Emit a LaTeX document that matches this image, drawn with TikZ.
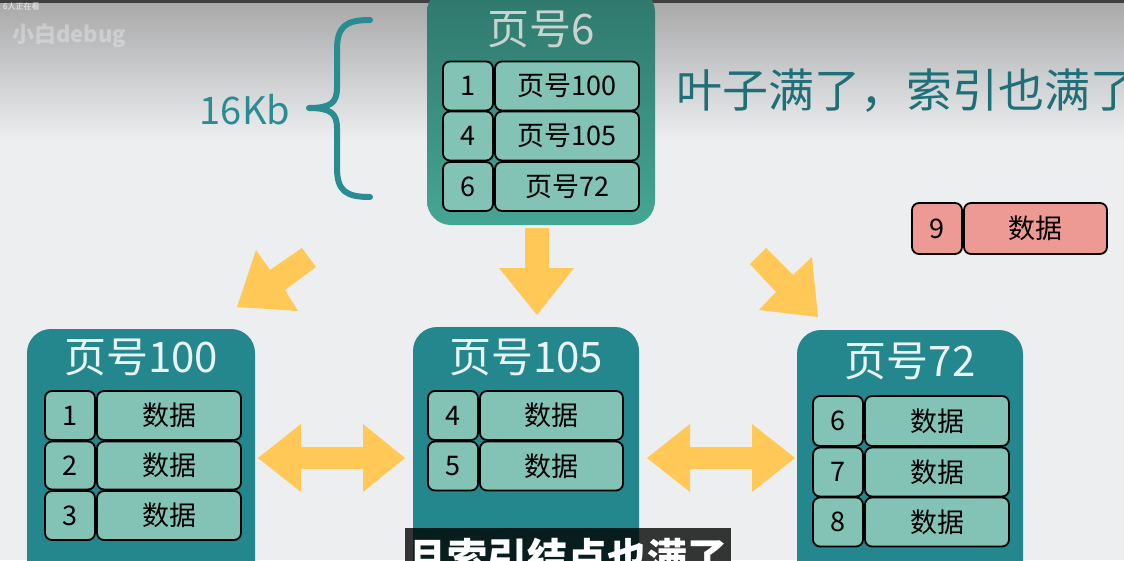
\documentclass[tikz,border=0pt]{standalone}
\usepackage{fontspec}
\setmainfont{Noto Sans CJK SC}
\usetikzlibrary{shadings}
\definecolor{bgc}{HTML}{ECEEF0}
\definecolor{bgtop}{HTML}{A8A8A8}
\definecolor{roottop}{HTML}{2F776C}
\definecolor{rootbot}{HTML}{45A693}
\definecolor{leafc}{HTML}{23878D}
\definecolor{cellc}{HTML}{82C3B5}
\definecolor{redc}{HTML}{EE9A94}
\definecolor{arrowc}{HTML}{FFC857}
\definecolor{tealtxt}{HTML}{1F6F78}
\definecolor{bracec}{HTML}{2A8C93}
\definecolor{roottitle}{HTML}{C9D4D0}
\definecolor{leaftitle}{HTML}{EAF3F1}
\begin{document}
\begin{tikzpicture}[x=1pt,y=-1pt,
  cell/.style={draw=black, line width=1.8pt, rounded corners=7pt, fill=cellc, inner sep=0pt,
    font=\fontsize{27}{27}\selectfont, text=black},
  redcell/.style={cell, fill=redc},
  leafbox/.style={rounded corners=24pt, fill=leafc, inner sep=0pt},
  title/.style={inner sep=0pt, font=\fontsize{42}{42}\selectfont, text=leaftitle},
  bigarrow/.style={fill=arrowc, draw=none}]
\useasboundingbox (0,0) rectangle (1124,560);
\clip (0,0) rectangle (1124,560);
% background
\fill[bgc] (0,0) rectangle (1124,560);
\shade[top color=bgtop, bottom color=bgc] (0,0) rectangle (1124,140);
\fill[black!75] (0,0) rectangle (1124,3);
% watermark
\node[anchor=west, inner sep=0pt, text=white, opacity=0.3, font=\fontsize{22}{22}\selectfont\bfseries] (wm) at (12,36) {小白debug};
\node[anchor=west, inner sep=0pt, text=white, opacity=0.85, font=\fontsize{8}{8}\selectfont] (viewers) at (3,6) {6人正在看};
% root box
\node[rounded corners=24pt, top color=roottop, bottom color=rootbot, inner sep=0pt,
  minimum width=228pt, minimum height=237pt] (root) at (541,106.5) {};
\node[title, text=roottitle] (roott) at (541,29) {页号6};
\node[cell, minimum width=50pt, minimum height=49pt] (rk1) at (468,86) {1};
\node[cell, minimum width=144pt, minimum height=49pt] (rv1) at (567,86) {页号100};
\node[cell, minimum width=50pt, minimum height=49pt] (rk2) at (468,136) {4};
\node[cell, minimum width=144pt, minimum height=49pt] (rv2) at (567,136) {页号105};
\node[cell, minimum width=50pt, minimum height=49pt] (rk3) at (468,186.5) {6};
\node[cell, minimum width=144pt, minimum height=49pt] (rv3) at (567,186.5) {页号72};
% brace and size
\draw[bracec, line width=6pt, line cap=round, line join=round]
  (370,20) .. controls (346,20) and (337,26) .. (337,50) -- (337,88)
  .. controls (337,103) and (330,108) .. (309,108)
  .. controls (330,108) and (337,113) .. (337,128) -- (337,168)
  .. controls (337,191) and (346,197) .. (370,197);
\node[inner sep=0pt, text=bracec, font=\fontsize{38}{38}\selectfont] (size) at (245,110) {16Kb};
% heading
\node[anchor=west, inner sep=0pt, text=tealtxt, font=\fontsize{46}{46}\selectfont] (head) at (676,91) {叶子满了，索引也满了};
% new record
\node[redcell, minimum width=50pt, minimum height=51pt] (nk) at (937,228.5) {9};
\node[redcell, minimum width=143pt, minimum height=51pt] (nv) at (1035.5,228.5) {数据};
% leaf 100
\node[leafbox, minimum width=228pt, minimum height=291pt] (l1) at (141,474.5) {};
\node[title] (l1t) at (141,357) {页号100};
\node[cell, minimum width=50pt, minimum height=49pt] (a1) at (70,415.5) {1};
\node[cell, minimum width=144pt, minimum height=49pt] (a1v) at (169,415.5) {数据};
\node[cell, minimum width=50pt, minimum height=48pt] (a2) at (70,465.5) {2};
\node[cell, minimum width=144pt, minimum height=48pt] (a2v) at (169,465.5) {数据};
\node[cell, minimum width=50pt, minimum height=49pt] (a3) at (70,515.5) {3};
\node[cell, minimum width=144pt, minimum height=49pt] (a3v) at (169,515.5) {数据};
% leaf 105
\node[leafbox, minimum width=226pt, minimum height=293pt] (l2) at (526,473.5) {};
\node[title] (l2t) at (526,357) {页号105};
\node[cell, minimum width=50pt, minimum height=49pt] (b1) at (453,415.5) {4};
\node[cell, minimum width=143pt, minimum height=49pt] (b1v) at (551.5,415.5) {数据};
\node[cell, minimum width=50pt, minimum height=49pt] (b2) at (453,466) {5};
\node[cell, minimum width=143pt, minimum height=49pt] (b2v) at (551.5,466) {数据};
% leaf 72
\node[leafbox, minimum width=226pt, minimum height=290pt] (l3) at (910,475) {};
\node[title] (l3t) at (910,361) {页号72};
\node[cell, minimum width=50pt, minimum height=50pt] (c1) at (838,421) {6};
\node[cell, minimum width=144pt, minimum height=50pt] (c1v) at (937,421) {数据};
\node[cell, minimum width=50pt, minimum height=49pt] (c2) at (838,472) {7};
\node[cell, minimum width=144pt, minimum height=49pt] (c2v) at (937,472) {数据};
\node[cell, minimum width=50pt, minimum height=49pt] (c3) at (838,522) {8};
\node[cell, minimum width=144pt, minimum height=49pt] (c3v) at (937,522) {数据};
% arrows
\fill[bigarrow] (525,228) -- (549,228) -- (549,268) -- (574,268) -- (537,315) -- (499,268) -- (525,268) -- cycle;
\fill[bigarrow] (237,307) -- (256,250) -- (270,270) -- (302,248) -- (316,267) -- (285,290) -- (298,311) -- cycle;
\fill[bigarrow] (818,317) -- (812,257) -- (793,275) -- (766,248) -- (750,264) -- (776,292) -- (759,310) -- cycle;
\fill[bigarrow] (258,458) -- (301,424) -- (301,447) -- (363,447) -- (363,424) -- (405,458) -- (363,492) -- (363,469) -- (301,469) -- (301,492) -- cycle;
\fill[bigarrow] (647,458) -- (690,424) -- (690,447) -- (752,447) -- (752,424) -- (795,458) -- (752,492) -- (752,469) -- (690,469) -- (690,492) -- cycle;
% subtitle
\fill[black, opacity=0.78] (405,528) rectangle (731,570);
\node[inner sep=0pt, text=white, font=\fontsize{40}{40}\selectfont\bfseries] (sub) at (567,557) {且索引结点也满了};
\end{tikzpicture}
\end{document}
